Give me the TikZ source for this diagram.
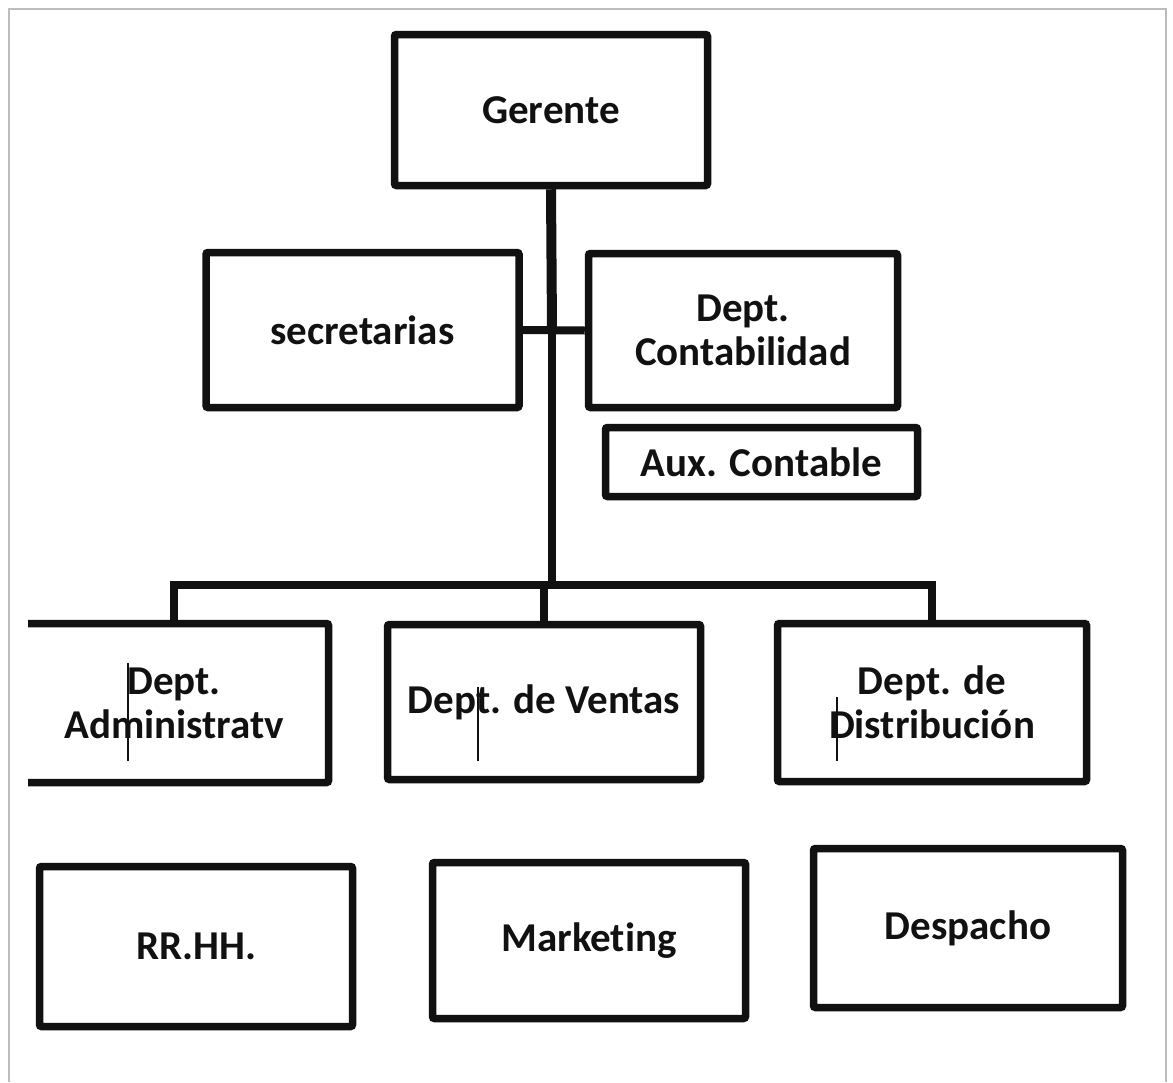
\documentclass[tikz,border=0pt]{standalone}
\usepackage{fontspec}
\setmainfont{Carlito}[Ligatures=CommonOff]
\usepackage{xcolor}
\definecolor{chartink}{HTML}{111111}
\definecolor{chartframe}{HTML}{BDBDBD}

\begin{document}
\begin{tikzpicture}[
  x=1pt,
  y=-1pt,
  every node/.style={font=\bfseries\fontsize{41}{44}\selectfont, text=chartink},
  unit/.style={draw=chartink, line width=7.5pt, rounded corners=2pt, align=center,
    inner sep=0pt, minimum width=313pt, minimum height=155pt},
  link/.style={draw=chartink, line width=8pt}
]
  \useasboundingbox (0,0) rectangle (1173,1082);

  % page frame, open at the bottom
  \draw[chartframe, line width=1.5pt] (9,1082) -- (9,9) -- (1166,9) -- (1166,1082);

  \node[unit, minimum height=151pt] (gerente) at (551,110) {Gerente};
  \node[unit] (secre) at (362.5,330) {secretarias};
  \node[unit, minimum width=309pt, minimum height=154pt] (contab) at (743,330.5) {Dept.\\Contabilidad};
  \node[unit, minimum width=312pt, minimum height=69pt] (aux) at (761.5,462) {Aux. Contable};

  \begin{scope}
    \clip (28,0) rectangle (1173,1082);
    \node[unit, minimum width=309pt, minimum height=159pt] (admin) at (174,703) {Dept.\\Administratv};
  \end{scope}
  \node[unit] (ventas) at (544,702) {Dept. de Ventas};
  \node[unit, minimum width=309pt, minimum height=158pt] (distrib) at (932,702.5) {Dept. de\\Distribución};

  \node[unit, minimum height=160pt] (rrhh) at (196,946.5) {RR.HH.};
  \node[unit, minimum height=156pt] (mkt) at (589,940.5) {Marketing};
  \node[unit, minimum width=309pt, minimum height=159pt] (despacho) at (968,928) {Despacho};

  \coordinate (hub) at (552,330);
  \coordinate (fork) at (552,585);

  \draw[link, line width=10pt] (gerente.south) -- (hub);
  \draw[link] (hub) -- (fork);
  \draw[link] (secre.east) -- (contab.west);
  \draw[link] (admin.north) -- (admin.north |- fork) -- (distrib.north |- fork) -- (distrib.north);
  \draw[link] (ventas.north) -- (ventas.north |- fork);

  % stray cursor marks
  \draw[chartink, line width=1.2pt] (128,663) -- (128,761);
  \draw[chartink, line width=1.2pt] (478,687) -- (478,761);
  \draw[chartink, line width=1.2pt] (837,697) -- (837,761);
\end{tikzpicture}
\end{document}
